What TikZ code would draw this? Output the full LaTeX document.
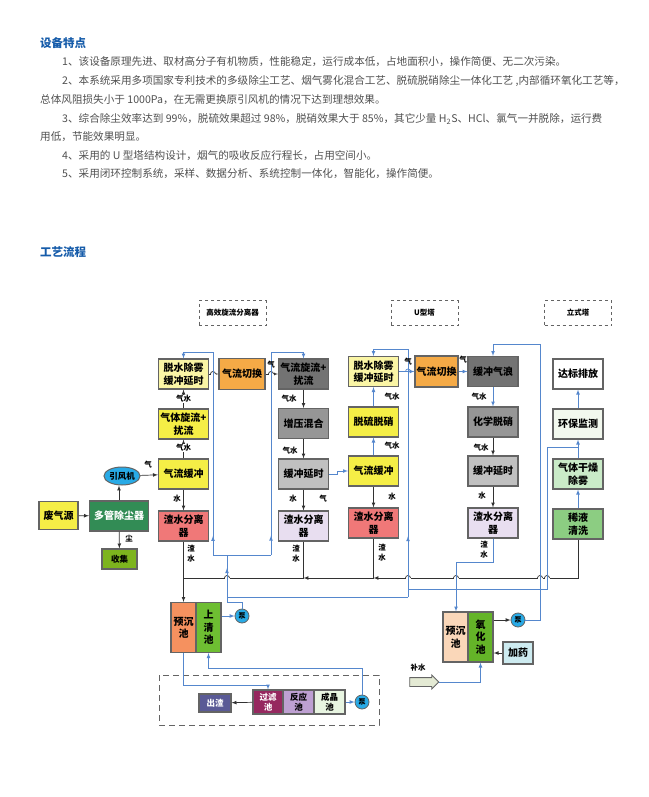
\documentclass[tikz,border=0pt]{standalone}
\usepackage{fontspec}
\setmainfont{Noto Sans CJK SC}
\usetikzlibrary{shapes.geometric,shapes.arrows,decorations.markings}

\definecolor{headblue}{RGB}{22,92,170}
\definecolor{txtgray}{RGB}{80,80,80}
\definecolor{flowblue}{RGB}{85,135,205}
\definecolor{edgegray}{RGB}{100,100,100}
\definecolor{lineblack}{RGB}{50,50,50}
\definecolor{cyellow}{RGB}{245,238,70}
\definecolor{cpale}{RGB}{250,245,165}
\definecolor{corange}{RGB}{245,170,70}
\definecolor{cdark}{RGB}{115,115,115}
\definecolor{cmid}{RGB}{150,150,150}
\definecolor{clight}{RGB}{192,192,192}
\definecolor{clilac}{RGB}{232,222,240}
\definecolor{cred}{RGB}{240,120,120}
\definecolor{cgreen}{RGB}{50,140,85}
\definecolor{colive}{RGB}{125,180,30}
\definecolor{ccyan}{RGB}{40,170,230}
\definecolor{cmint}{RGB}{242,248,238}
\definecolor{cpalegreen}{RGB}{202,235,200}
\definecolor{cleaf}{RGB}{140,205,130}
\definecolor{csalmon}{RGB}{245,145,95}
\definecolor{cgrass}{RGB}{110,190,50}
\definecolor{cslate}{RGB}{90,90,150}
\definecolor{cmaroon}{RGB}{150,40,95}
\definecolor{cmauve}{RGB}{190,160,210}
\definecolor{choney}{RGB}{232,245,225}
\definecolor{cpeach}{RGB}{250,215,185}
\definecolor{cfresh}{RGB}{100,180,40}
\definecolor{cice}{RGB}{205,235,240}
\definecolor{carrow}{RGB}{228,234,212}

\begin{document}
\begin{tikzpicture}[x=1pt, y=-1pt,
  box/.style={draw=edgegray, line width=1.2pt, minimum width=50pt, minimum height=30pt,
    inner sep=1pt, align=center, font=\bfseries\fontsize{10}{12.5}\selectfont},
  pool/.style={box, minimum width=25pt, minimum height=50pt},
  tank/.style={box, minimum width=31pt, minimum height=24pt, font=\bfseries\fontsize{8.5}{10}\selectfont},
  pump/.style={circle, draw=edgegray, line width=0.8pt, fill=ccyan, minimum size=14pt,
    inner sep=0pt, font=\bfseries\fontsize{7}{7}\selectfont},
  tag/.style={draw=edgegray, dashed, line width=0.8pt, minimum width=67pt, minimum height=25pt,
    font=\bfseries\fontsize{7.5}{9}\selectfont},
  lbl/.style={inner sep=0.5pt, align=center, font=\bfseries\fontsize{7.5}{10}\selectfont},
  onlbl/.style={lbl, fill=white},
  arr/.style={draw=lineblack, line width=0.7pt, -latex},
  mainline/.style={draw=lineblack, line width=0.7pt},
  blueline/.style={draw=flowblue, line width=0.7pt},
  bluearr/.style={blueline, -latex},
  midarr/.style={postaction={decorate, decoration={markings, mark=at position #1 with {\arrow{latex}}}}},
  para/.style={anchor=west, inner sep=0pt, text=txtgray, font=\fontsize{10.6}{12}\selectfont},
  head/.style={anchor=west, inner sep=0pt, text=headblue, font=\bfseries\fontsize{11.5}{13}\selectfont}]

\fill[white] (0,0) rectangle (648,797);
\useasboundingbox (0,0) rectangle (648,797);

% features
\node[head] (feat) at (40,43) {设备特点};
\node[para] at (62,62) {1、该设备原理先进、取材高分子有机物质，性能稳定，运行成本低，占地面积小，操作简便、无二次污染。};
\node[para] at (62,81) {2、本系统采用多项国家专利技术的多级除尘工艺、烟气雾化混合工艺、脱硫脱硝除尘一体化工艺 ,内部循环氧化工艺等，};
\node[para] at (40,100) {总体风阻损失小于 1000Pa，在无需更换原引风机的情况下达到理想效果。};
\node[para] at (62,119) {3、综合除尘效率达到 99\%，脱硫效果超过 98\%，脱硝效果大于 85\%，其它少量 H\textsubscript{2}S、HCl、氯气一并脱除，运行费};
\node[para] at (40,137) {用低，节能效果明显。};
\node[para] at (62,156) {4、采用的 U 型塔结构设计，烟气的吸收反应行程长，占用空间小。};
\node[para] at (62,174) {5、采用闭环控制系统，采样、数据分析、系统控制一体化，智能化，操作简便。};
\node[head] (proc) at (40,252) {工艺流程};

% section tags
\node[tag] (tag1) at (232.5,313) {高效旋流分离器};
\node[tag] (tag2) at (424.5,313) {U型塔};
\node[tag] (tag3) at (578,313) {立式塔};

% process boxes
\node[box, fill=cpale] (ts1) at (183.5,374) {脱水除雾\\缓冲延时};
\node[box, fill=cyellow] (xl1) at (183.5,424) {气体旋流+\\扰流};
\node[box, fill=cyellow] (hc1) at (183.5,474) {气流缓冲};
\node[box, fill=cred] (zs1) at (183.5,526) {渣水分离\\器};
\node[box, fill=cdark] (xl2) at (303.5,374) {气流旋流+\\扰流};
\node[box, fill=cmid] (zy) at (303.5,423.5) {增压混合};
\node[box, fill=clight] (yc2) at (303.5,474) {缓冲延时};
\node[box, fill=clilac] (zs2) at (303.5,526) {渣水分离\\器};
\node[box, fill=cpale] (ts3) at (373.5,371.5) {脱水除雾\\缓冲延时};
\node[box, fill=cyellow] (tl) at (373.5,422) {脱硫脱硝};
\node[box, fill=cyellow] (hc3) at (373.5,471) {气流缓冲};
\node[box, fill=cred] (zs3) at (373.5,523) {渣水分离\\器};
\node[box, fill=cdark] (hq) at (493,371.5) {缓冲气浪};
\node[box, fill=cmid] (hx) at (493,422) {化学脱硝};
\node[box, fill=clight] (yc4) at (493,471) {缓冲延时};
\node[box, fill=clilac] (zs4) at (493,523) {渣水分离\\器};
\node[box, fill=white] (db) at (578,374) {达标排放};
\node[box, fill=cmint] (hb) at (578,424) {环保监测};
\node[box, fill=cpalegreen] (gz) at (578,474) {气体干燥\\除雾};
\node[box, fill=cleaf] (xy) at (578,524) {稀液\\清洗};
\node[box, fill=corange, minimum width=46pt, minimum height=31pt] (qh1) at (242,374) {气流切换};
\node[box, fill=corange, minimum width=43pt, minimum height=31pt] (qh2) at (436.5,371.5) {气流切换};

% inlet side
\node[box, fill=cyellow, minimum width=39pt, minimum height=28pt] (fqy) at (58.5,515.5) {废气源};
\node[box, fill=cgreen, text=white, minimum width=59pt] (dgc) at (119,516) {多管除尘器};
\node[ellipse, draw=edgegray, line width=1pt, fill=ccyan, minimum width=31pt, minimum height=18pt,
  inner sep=0pt, font=\bfseries\fontsize{8.5}{10}\selectfont] (yfj) at (122,476) {引风机};
\node[box, fill=colive, minimum width=35pt, minimum height=20pt, font=\bfseries\fontsize{8.5}{10}\selectfont] (sj) at (119.5,559) {收集};

% pools
\node[pool, fill=csalmon] (yc1) at (183.5,627.5) {预沉\\池};
\node[pool, fill=cgrass] (sq) at (208.5,627.5) {上\\清\\池};
\node[pump] (b1) at (242,616) {泵};
\node[tank, fill=cslate, text=white, minimum width=32pt, minimum height=18pt] (cz) at (215,703) {出渣};
\node[tank, fill=cmaroon, text=white, minimum width=30pt] (gl) at (268,702) {过滤\\池};
\node[tank, fill=cmauve] (fy) at (298.5,702) {反应\\池};
\node[tank, fill=choney] (cj) at (329.5,702) {成晶\\池};
\node[pump] (b2) at (362,702) {泵};
\node[pool, fill=cpeach] (yc3) at (455.5,637) {预沉\\池};
\node[pool, fill=cfresh] (yh) at (480.5,637) {氧\\化\\池};
\node[pump] (b3) at (518,620) {泵};
\node[tank, fill=cice, minimum width=30pt, minimum height=22pt, font=\bfseries\fontsize{10}{12}\selectfont] (jy) at (518,653) {加药};
\node[single arrow, draw=edgegray, line width=0.8pt, fill=carrow, minimum height=29pt,
  inner xsep=0pt, inner ysep=4pt, single arrow head extend=2.5pt] (bs) at (422,682) {};
\node[lbl] (bslbl) at (418,668) {补水};
\draw[edgegray, dashed, dash pattern=on 6pt off 4pt, line width=1pt] (159,675) rectangle (379,725);

% black flow
\draw[arr] (fqy) -- (dgc);
\draw[arr] (dgc.north) -- (dgc.north |- yfj.south);
\draw[arr] (dgc) -- (sj);
\draw[arr] (yfj) -- (hc1);
\draw[arr] (hc1) -- (xl1);
\draw[arr] (xl1) -- (ts1);
\draw[arr] (hc1) -- (zs1);
\draw[arr] (ts1) -- (qh1);
\draw[arr] (qh1) -- (xl2);
\draw[arr] (xl2) -- (zy);
\draw[arr] (zy) -- (yc2);
\draw[arr] (yc2) -- (zs2);
\draw[arr] (hc3) -- (zs3);
\draw[arr] (hx) -- (yc4);
\draw[arr] (yc4) -- (zs4);
\draw[arr] (gl) -- (cz);
\draw[arr] (yh.east |- b3) -- (b3);
\draw[arr] (jy) -- (yh.east |- jy);

% sludge water main
\coordinate (j1) at (183.5,578);
\coordinate (j2) at (303.5,578);
\coordinate (j3) at (373.5,578);
\draw[arr] (xy.south) |- (j3);
\draw[arr] (j3) -- (j2);
\draw[mainline] (j2) -- (j1);
\draw[arr] (j1) -- (yc1);
\draw[mainline] (zs1) -- (j1);
\draw[mainline] (zs2) -- (j2);
\draw[mainline] (zs3) -- (j3);
\foreach \bx/\by/\bc in {227/578/lineblack, 408/578/lineblack, 456/578/lineblack, 540/578/lineblack,
  547/578/lineblack, 213/374/lineblack, 271/374/lineblack, 408/371.5/flowblue} {
  \fill[white] (\bx-2.5,\by-2) rectangle (\bx+2.5,\by+2);
  \draw[\bc, line width=0.7pt] (\bx-2.5,\by) arc (180:360:2.5);
}

% blue flow
\draw[bluearr] (yc2.east) -- ++(8,0) |- (hc3);
\draw[bluearr] (hc3) -- (tl);
\draw[bluearr] (tl) -- (ts3);
\draw[bluearr] (ts3) -- (qh2);
\draw[bluearr] (qh2) -- (hq);
\draw[bluearr] (hq) -- (hx);
\draw[bluearr] (xy) -- (gz);
\draw[bluearr] (gz) -- (hb);
\draw[bluearr] (hb) -- (db);
\draw[bluearr] (sq.east |- b1) -- (b1);
\draw[bluearr] (cj) -- (b2);

% return water
\coordinate (lbot) at (227,602);
\coordinate (lsplit) at (227,555);
\coordinate (c1b) at (213,555);
\coordinate (c1t) at (213,352);
\coordinate (c2b) at (271,555);
\coordinate (c2t) at (271,352);
\coordinate (c3b) at (408,597);
\coordinate (c3t) at (408,349);
\coordinate (c5b) at (547,589);
\coordinate (c5t) at (547,447);
\coordinate (c4b) at (540,620);
\coordinate (c4t) at (540,344);
\coordinate (c4o) at (456,562);
\draw[blueline] (b1.north) |- (lbot);
\draw[blueline, midarr=0.72] (lbot) -- (lsplit);
\draw[blueline] (c1b) -- (c2b);
\draw[bluearr, midarr=0.08] (c1b) -- (c1t) -| (ts1.north);
\draw[bluearr, midarr=0.08] (c2b) -- (c2t) -| (xl2.north);
\draw[blueline] (lbot |- c3b) -- (c3b);
\draw[bluearr, midarr=0.21] (c3b) -- (c3t) -| (ts3.north);
\draw[blueline] (c3b |- c5b) -- (c5b) -- (c5t) -- (gz.north |- c5t);
\draw[bluearr] (b3.east) -- (c4b) -- (c4t) -| (hq.north);
\draw[bluearr] (zs4.south) |- (c4o) -- (c4o |- yc3.north);
\draw[bluearr] (bs.east) -| (yh.south);
\draw[bluearr] (yc1.south) -- ++(0,32) -| (gl.north);
\draw[bluearr] (b2.north) -- ++(0,-26) -| (sq.south);

% labels
\node[lbl] at (148,465) {气};
\node[lbl] at (129,539) {尘};
\node[onlbl] at (183.5,399) {气水};
\node[onlbl] at (183.5,448) {气水};
\node[lbl] at (177,499) {水};
\node[lbl] at (191,554) {渣\\水};
\node[lbl] at (271,365) {气};
\node[lbl] at (289,399) {气水};
\node[lbl] at (290,451) {气水};
\node[lbl] at (293,499) {水};
\node[lbl] at (323,499) {气};
\node[lbl] at (296,554) {渣\\水};
\node[lbl] at (392,397) {气水};
\node[lbl] at (392,446) {气水};
\node[lbl] at (392,497) {水};
\node[lbl] at (382,553) {渣\\水};
\node[lbl] at (408,362) {气};
\node[lbl] at (463,360) {气};
\node[lbl] at (479,397) {气水};
\node[lbl] at (481,448) {气水};
\node[lbl] at (482,496) {水};
\node[lbl] at (484,550) {渣\\水};
\end{tikzpicture}
\end{document}
